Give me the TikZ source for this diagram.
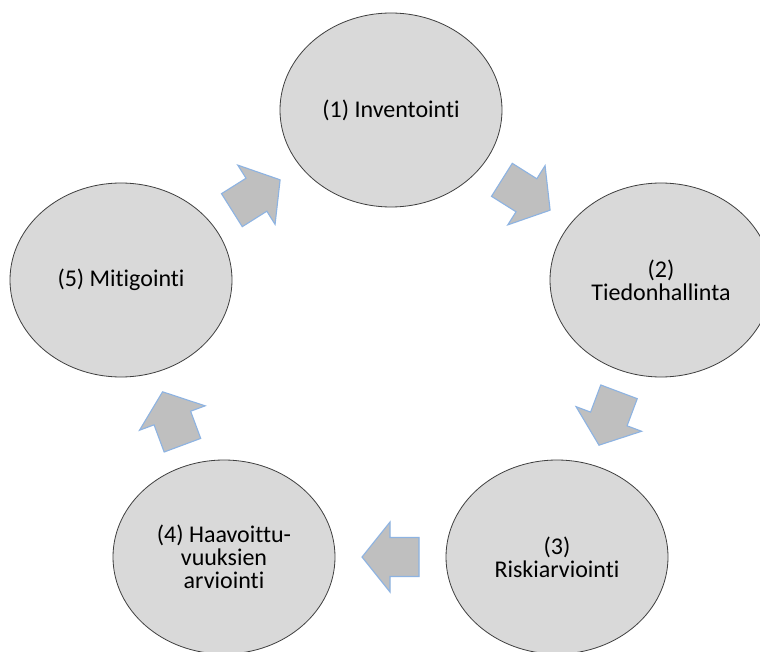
\documentclass[tikz,border=0pt]{standalone}
\usepackage{fontspec}
\setmainfont{Carlito}[Ligatures={NoCommon}]
\usetikzlibrary{shapes.geometric}

\definecolor{phasefill}{HTML}{D9D9D9}
\definecolor{phaseline}{HTML}{3F3F3F}
\definecolor{arrowfill}{HTML}{BFBFBF}
\definecolor{arrowline}{HTML}{8DB3E2}

\tikzset{
  phase/.style={ellipse, draw=phaseline, line width=0.8pt, fill=phasefill,
    minimum width=222pt, minimum height=194pt, inner sep=0pt, align=center,
    font=\fontsize{24}{23}\selectfont},
  blockarrow/.pic={
    \draw[fill=arrowfill, draw=arrowline, line width=1.1pt, line join=miter]
      (-28.5,-19.5) -- (0.5,-19.5) -- (0.5,-35) -- (28.5,0) --
      (0.5,35) -- (0.5,19.5) -- (-28.5,19.5) -- cycle;
  },
  flow/.style={pos=0.5, sloped, allow upside down}
}

\begin{document}
\begin{tikzpicture}[x=1pt, y=-1pt]
  \useasboundingbox (0,0) rectangle (760,652);
  \clip (0,0) rectangle (760,652);
  \fill[white] (0,0) rectangle (760,652);

  % process phases
  \node[phase] (p1) at (391,110) {(1) Inventointi};
  \node[phase] (p2) at (661,280) {(2)\\Tiedonhallinta};
  \node[phase] (p3) at (557,557) {(3)\\Riskiarviointi};
  \node[phase] (p4) at (224,557) {(4) Haavoittu-\\vuuksien\\arviointi};
  \node[phase] (p5) at (121,280) {(5) Mitigointi};

  % block arrows half-way between consecutive phases
  \path (p1.center) -- (p2.center) pic[flow] {blockarrow};
  \path (p2.center) -- (p3.center) pic[flow] {blockarrow};
  \path (p3.center) -- (p4.center) pic[flow] {blockarrow};
  \path (p4.center) -- (p5.center) pic[flow] {blockarrow};
  \path (p5.center) -- (p1.center) pic[flow] {blockarrow};
\end{tikzpicture}
\end{document}
